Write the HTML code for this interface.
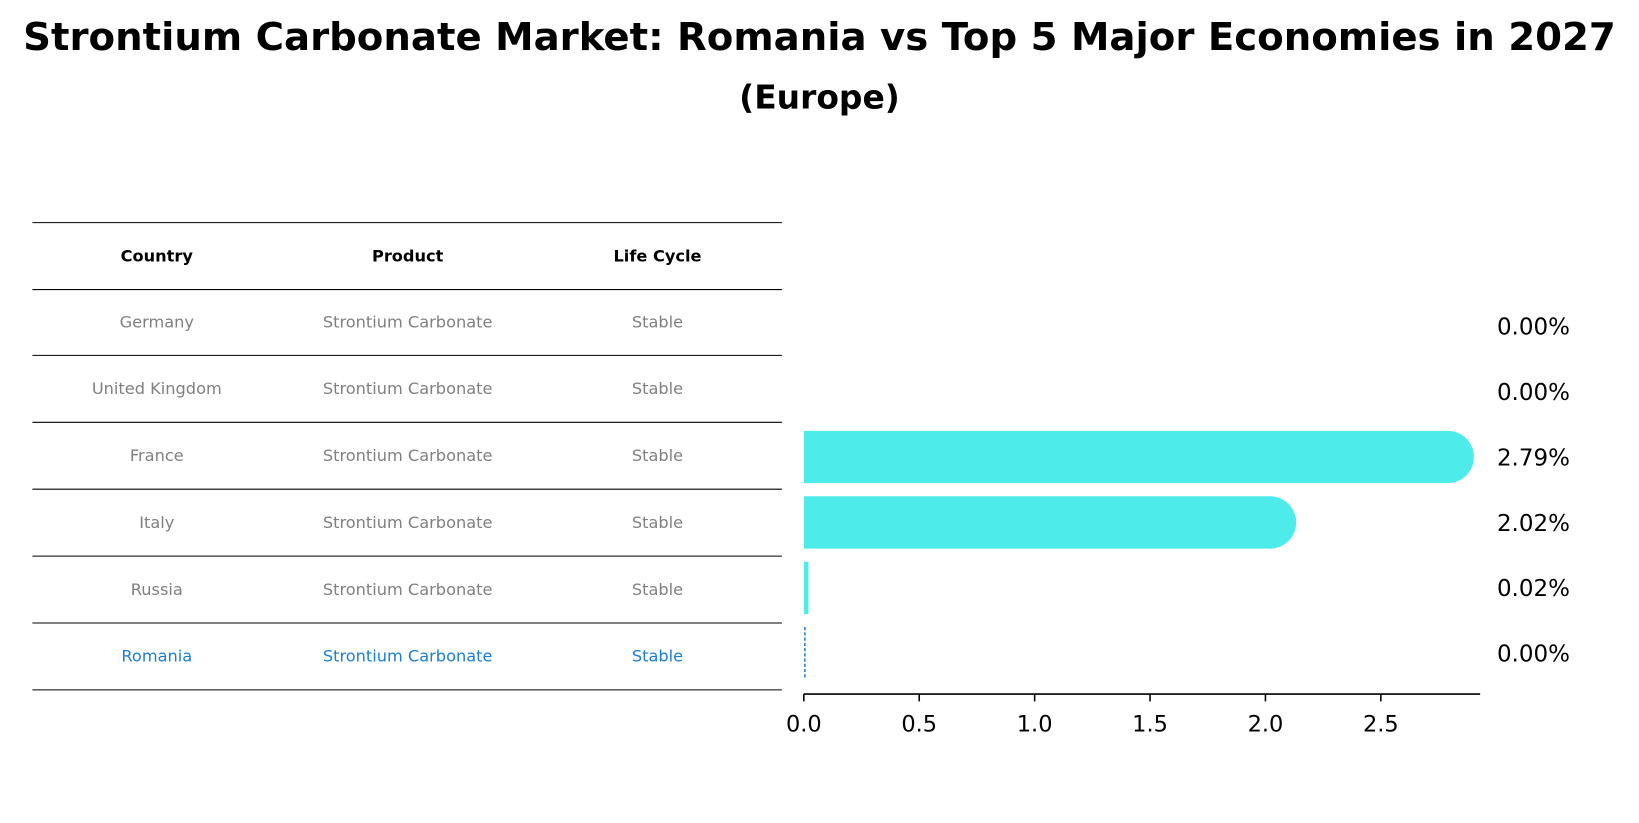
<!DOCTYPE html>
<html><head><meta charset="utf-8">
<style>
body{margin:0;background:#fff;font-family:"Liberation Sans","DejaVu Sans",sans-serif;}
#root{position:relative;width:1639px;height:823px;overflow:hidden;}
</style></head>
<body>
<div id="root">
<svg id="svg" width="1639" height="823" xmlns="http://www.w3.org/2000/svg">
<g transform="scale(1.0453)">
<text x="784" y="48" text-anchor="middle" font-family="DejaVu Sans,sans-serif" font-weight="bold" font-size="37">Strontium Carbonate Market: Romania vs Top 5 Major Economies in 2027</text>
<text x="784" y="104" text-anchor="middle" font-family="DejaVu Sans,sans-serif" font-weight="bold" font-size="31.5">(Europe)</text>
<g id="table"></g>
<g id="bars"></g>
</g>
</svg>
</div>
<script>
const countries=["Germany","United Kingdom","France","Italy","Russia","Romania"];
const products=["Strontium Carbonate","Strontium Carbonate","Strontium Carbonate","Strontium Carbonate","Strontium Carbonate","Strontium Carbonate"];
const lifecycle=["Stable","Stable","Stable","Stable","Stable","Stable"];
const values=[0.00,0.00,2.79,2.02,0.02,0.00];
const valueLabels=["0.00%","0.00%","2.79%","2.02%","0.02%","0.00%"];
const ticks=[0,0.5,1.0,1.5,2.0,2.5];
const tickLabels=["0.0","0.5","1.0","1.5","2.0","2.5"];

const NS="http://www.w3.org/2000/svg";
function mk(tag,attrs,parent,txt){const e=document.createElementNS(NS,tag);for(const k in attrs)e.setAttribute(k,attrs[k]);if(txt!==undefined)e.textContent=txt;parent.appendChild(e);return e;}
const x0=769,xScale=220.8;
const xs=v=>x0+v*xScale;
const rowY=i=>312+i*62.6;
const table=document.getElementById('table');
const bars=document.getElementById('bars');
const lineYs=[213,277,340,404,468,532,596,660];
lineYs.forEach((y,i)=>{const l=mk('line',{x1:31,x2:748,y1:y,y2:y,stroke:'#000','stroke-width':1},table);

});
const colX=[150,390,629];
["Country","Product","Life Cycle"].forEach((h,j)=>{const t=mk('text',{x:colX[j],y:250,'text-anchor':'middle','font-size':15.5,'font-weight':'bold','font-family':'DejaVu Sans,sans-serif'},table,h);

});
for(let i=0;i<countries.length;i++){
  const y=(lineYs[i+1]+lineYs[i+2])/2+5;
  const col=i===countries.length-1?'#1a7fd4':'#808080';
  [countries[i],products[i],lifecycle[i]].forEach((v,j)=>{const t=mk('text',{x:colX[j],y:y,'text-anchor':'middle','font-size':15.5,fill:col,'font-family':'DejaVu Sans,sans-serif'},table,v);
  
  });
}
const bh=50,r=25;
for(let i=0;i<values.length;i++){
  const cy=rowY(i);const w=xs(values[i])-x0;
  if(i===values.length-1){
    const l=mk('line',{x1:x0+1,x2:x0+1,y1:cy-25,y2:cy+25,stroke:'#1a7fd4','stroke-width':1.5,'stroke-dasharray':'3,2'},bars);
    
    
  } else if(w>0.5){
    let d;
    if(w>r){d=`M${x0},${cy-bh/2} H${x0+w} A${r},${r} 0 0 1 ${x0+w},${cy+bh/2} H${x0} Z`;}
    else {d=`M${x0},${cy-bh/2} h${Math.max(w,4)} v${bh} h${-Math.max(w,4)} Z`;}
    const p=mk('path',{d:d,fill:'#4deceb'},bars);
    
    
  }
  const t=mk('text',{x:1467,y:cy+8,'text-anchor':'middle','font-size':22,'font-family':'DejaVu Sans,sans-serif'},bars,valueLabels[i]);
  
  
}
const ax=mk('line',{x1:x0,x2:1416,y1:664,y2:664,stroke:'#000','stroke-width':1.5},bars);


ticks.forEach((v,i)=>{
  const tk=mk('line',{x1:xs(v),x2:xs(v),y1:664,y2:671,stroke:'#000','stroke-width':1.5},bars);
  
  
  const t=mk('text',{x:xs(v),y:700,'text-anchor':'middle','font-size':21.5,'font-family':'DejaVu Sans,sans-serif'},bars,tickLabels[i]);
  
  
});
</script>
</body></html>
